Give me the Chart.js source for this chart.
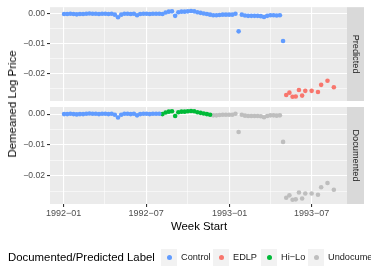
<!DOCTYPE html>
<html>
<head>
<meta charset="utf-8">
<script src="https://cdn.jsdelivr.net/npm/chart.js@4.4.1/dist/chart.umd.min.js"></script>
<style>
  html, body { margin: 0; padding: 0; background: #fff; overflow: hidden; }
  #wrap { position: relative; width: 371px; height: 278px; font-family: "Liberation Sans", Arial, sans-serif; color: #000; }
  canvas { position: absolute; left: 0; top: 0; }
  .ytitle { position: absolute; left: 12px; top: 104px; transform: translate(-50%, -50%) rotate(-90deg); font-size: 11.4px; white-space: nowrap; }
  .xtitle { position: absolute; left: 199px; top: 226px; transform: translate(-50%, -50%); font-size: 11.4px; white-space: nowrap; }
  .leg { position: absolute; top: 249px; height: 17px; line-height: 17px; white-space: nowrap; }
  .leg.title { font-size: 11.4px; }
  .leg.txt { font-size: 9.2px; color: #1a1a1a; }
  .leg.key { width: 16px; background: #f2f2f2; }
  .leg.key span { position: absolute; left: 5.5px; top: 6px; width: 5px; height: 5px; border-radius: 50%; }
</style>
</head>
<body>
<div id="wrap">
  <canvas id="cPred" width="371" height="278"></canvas>
  <canvas id="cDoc" width="371" height="278"></canvas>
  <div class="ytitle">Demeaned Log Price</div>
  <div class="xtitle">Week Start</div>
  <div id="legend"></div>
</div>
<script>
(function () {
  // ── data ──
  var FIRST_WEEK = "1992-01-02";
  // demeaned log price per week (null = no observation)
  var logPrice = [
    0.0000, 0.0000, 0.0001, 0.0000, -0.0001, 0.0000, 0.0000, 0.0001, 0.0002, 0.0001,
    0.0001, 0.0000, 0.0001, 0.0001, 0.0000, 0.0001, -0.0002, -0.0011, -0.0002, 0.0001,
    0.0001, 0.0000, 0.0001, -0.0004, 0.0000, 0.0001, 0.0001, 0.0000, 0.0001, 0.0001,
    0.0001, 0.0000, 0.0005, 0.0008, 0.0009, -0.0006, 0.0006, 0.0008, 0.0008, 0.0009,
    0.0010, 0.0009, 0.0006, 0.0004, 0.0002, 0.0000, -0.0002, -0.0004, -0.0004, -0.0003,
    -0.0002, -0.0002, -0.0002, -0.0002, 0.0001, -0.0058, -0.0002, -0.0005, -0.0006, -0.0006,
    -0.0006, -0.0006, -0.0007, -0.0010, -0.0006, -0.0004, -0.0004, -0.0005, -0.0004, -0.0090,
    -0.0271, -0.0263, -0.0277, -0.0276, -0.0254, -0.0273, -0.0257, null, -0.0257, null,
    -0.0261, -0.0237, null, -0.0223, null, -0.0245
  ];
  // label runs: [label, first week index, last week index]
  var predictedRuns = [["Control", 0, 69], ["EDLP", 70, 85]];
  var documentedRuns = [["Control", 0, 30], ["Hi-Lo", 31, 46], ["Undocumented", 47, 85]];

  var labelNames = ["Control", "EDLP", "Hi-Lo", "Undocumented"];
  var labelText = ["Control", "EDLP", "Hi\u2212Lo", "Undocumented"];
  var labelColors = ["#619CFF", "#F8766D", "#00BA38", "#BEBEBE"];

  var xTickDates = ["1992-01-01", "1992-04-01", "1992-07-01", "1992-10-01", "1993-01-01", "1993-04-01", "1993-07-01"];
  var xTickLabels = ["1992\u221201", "", "1992\u221207", "", "1993\u221201", "", "1993\u221207"];
  var yTicks = [0, -0.005, -0.01, -0.015, -0.02, -0.025];
  var yTickLabels = ["0.00", "", "\u22120.01", "", "\u22120.02", ""];

  var EPOCH = Date.UTC(1992, 0, 1);
  function dayOf(s) {
    var p = s.split("-");
    return (Date.UTC(+p[0], +p[1] - 1, +p[2]) - EPOCH) / 86400000;
  }
  var firstDay = dayOf(FIRST_WEEK);

  function buildDatasets(runs) {
    var out = [];
    labelNames.forEach(function (name, k) {
      var pts = [];
      runs.forEach(function (r) {
        if (r[0] !== name) return;
        for (var i = r[1]; i <= r[2]; i++) {
          if (logPrice[i] === null) continue;
          pts.push({ x: firstDay + 7 * i, y: logPrice[i] });
        }
      });
      if (pts.length) {
        out.push({
          label: name,
          data: pts,
          backgroundColor: labelColors[k],
          borderWidth: 0,
          pointRadius: 2.3,
          pointHoverRadius: 2.3,
        });
      }
    });
    return out;
  }

  var panelPlugin = {
    id: "panel",
    beforeDraw: function (chart) {
      var a = chart.chartArea, c = chart.ctx;
      c.save();
      c.fillStyle = "#EBEBEB";
      c.fillRect(a.left, a.top, a.right - a.left, a.bottom - a.top);
      c.restore();
    },
    afterDraw: function (chart, args, opts) {
      var a = chart.chartArea, c = chart.ctx;
      c.save();
      c.fillStyle = "#D9D9D9";
      c.fillRect(a.right, a.top, 17, a.bottom - a.top);
      c.translate(a.right + 8.5, (a.top + a.bottom) / 2);
      c.rotate(Math.PI / 2);
      c.fillStyle = "#1A1A1A";
      c.font = "9.2px 'Liberation Sans', Arial, sans-serif";
      c.textAlign = "center";
      c.textBaseline = "middle";
      c.fillText(opts.text, 0, 0);
      c.restore();
    },
  };

  function makePanel(id, runs, strip, top, bottom, showX) {
    return new Chart(document.getElementById(id), {
      type: "scatter",
      data: { datasets: buildDatasets(runs) },
      plugins: [panelPlugin],
      options: {
        responsive: false,
        animation: false,
        events: [],
        layout: { padding: { top: top, right: 24, left: 0, bottom: showX ? 0 : 278 - bottom } },
        plugins: {
          legend: { display: false },
          tooltip: { enabled: false },
          panel: { text: strip },
        },
        scales: {
          x: {
            type: "linear",
            min: -30,
            max: 625,
            afterBuildTicks: function (s) {
              s.ticks = xTickDates.map(function (d) { return { value: dayOf(d) }; });
            },
            afterFit: function (s) { s.height = showX ? 278 - bottom : 0; },
            border: { display: false },
            grid: {
              color: "#FFFFFF",
              lineWidth: function (c) { return xTickLabels[c.index] ? 1.1 : 0.55; },
              drawTicks: showX,
              tickLength: 3,
              tickWidth: 1.1,
              tickColor: function (c) { return xTickLabels[c.index] ? "#333333" : "rgba(0,0,0,0)"; },
            },
            ticks: {
              display: showX,
              autoSkip: false,
              maxRotation: 0,
              padding: 1,
              color: "#4D4D4D",
              font: { family: "'Liberation Sans', Arial, sans-serif", size: 9 },
              callback: function (v, i) { return xTickLabels[i]; },
            },
          },
          y: {
            min: -0.0291,
            max: 0.0023,
            afterBuildTicks: function (s) {
              s.ticks = yTicks.map(function (v) { return { value: v }; });
            },
            afterFit: function (s) { s.width = 50; },
            border: { display: false },
            grid: {
              color: "#FFFFFF",
              lineWidth: function (c) { return yTickLabels[c.index] ? 1.1 : 0.55; },
              tickLength: 3,
              tickWidth: 1.1,
              tickColor: function (c) { return yTickLabels[c.index] ? "#333333" : "rgba(0,0,0,0)"; },
            },
            ticks: {
              padding: 2,
              color: "#4D4D4D",
              font: { family: "'Liberation Sans', Arial, sans-serif", size: 8.6 },
              callback: function (v, i) { return yTickLabels[i]; },
            },
          },
        },
      },
    });
  }

  makePanel("cPred", predictedRuns, "Predicted", 4, 101, false);
  makePanel("cDoc", documentedRuns, "Documented", 107, 204, true);

  // ── legend (bottom, runs past the right edge like the original) ──
  var keyLeft = [161, 213, 261, 308];
  var legend = document.getElementById("legend");
  var html = '<div class="leg title" style="left:8px">Documented/Predicted Label</div>';
  labelNames.forEach(function (n, k) {
    html += '<div class="leg key" style="left:' + keyLeft[k] + 'px"><span style="background:' + labelColors[k] + '"></span></div>';
    html += '<div class="leg txt" style="left:' + (keyLeft[k] + 20) + 'px">' + labelText[k] + '</div>';
  });
  legend.innerHTML = html;
})();
</script>
</body>
</html>
